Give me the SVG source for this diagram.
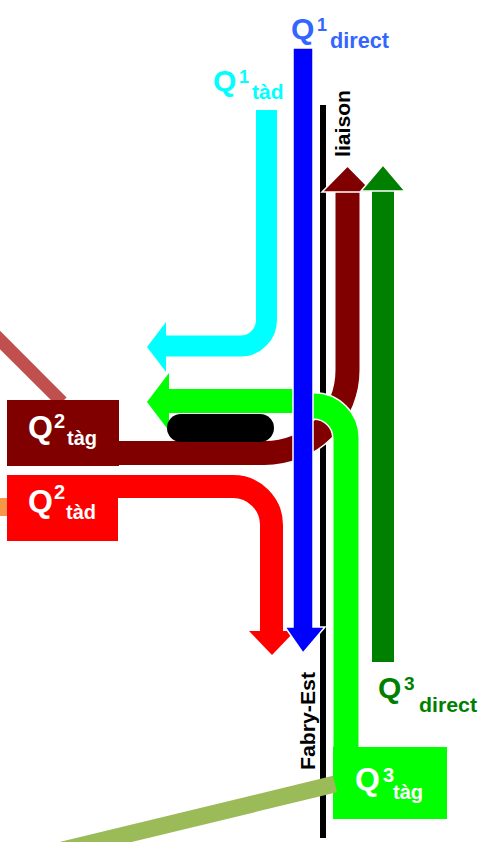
<svg xmlns="http://www.w3.org/2000/svg" width="495" height="842" viewBox="0 0 495 842">
<style>
.t{font-family:"Liberation Sans","Noto Sans",Arial,sans-serif;font-weight:bold}
.big{font-size:32px}
.sup{font-size:20px}
.sub{font-size:20px}
.w{fill:#ffffff}
.band{fill:none;stroke-linecap:butt;stroke-linejoin:round}
</style>
<rect width="495" height="842" fill="#ffffff"/>
<g id="feeders">
<line x1="-10" y1="330" x2="62" y2="402" stroke="#C0504D" stroke-width="13"/>
<line x1="-20" y1="507" x2="12" y2="507" stroke="#F79646" stroke-width="18"/>
</g>
<g id="road">
<rect x="320" y="105" width="6" height="733" fill="#000000"/>
</g>
<g id="connectors">
<g id="q2tag-flow">
<path class="band" d="M347.5,192 V370 A83,83 0 0 1 264.5,453 H110" stroke="#ffffff" stroke-width="27"/>
<path class="band" d="M347.5,192 V370 A83,83 0 0 1 264.5,453 H110" stroke="#800000" stroke-width="24"/>
<polygon points="347.5,166 373,192 322,192" fill="#800000" stroke="#ffffff" stroke-width="1.5"/>
</g>
<g id="q3direct-flow">
<rect x="372" y="190" width="22" height="472" fill="#008000"/>
<polygon points="383,165 405,191 361,191" fill="#008000" stroke="#ffffff" stroke-width="1.5"/>
</g>
<g id="q1tad-flow">
<path class="band" d="M266.5,110 V320 A26,26 0 0 1 240.5,346 H164" stroke="#00FFFF" stroke-width="21"/>
<polygon points="147,347 166,322 166,372" fill="#00FFFF"/>
</g>
<g id="q3tag-flow">
<rect x="168" y="389" width="132" height="24" fill="#00FF00"/>
<polygon points="147,402 169,373 169,431" fill="#00FF00"/>
<path class="band" d="M346,750 V438 A32,32 0 0 0 314,406 H305" stroke="#ffffff" stroke-width="28"/>
<path class="band" d="M346,750 V438 A32,32 0 0 0 314,406 H305" stroke="#00FF00" stroke-width="25"/>
</g>
<g id="q2tad-flow">
<path class="band" d="M110,486.5 H233 A38.5,38.5 0 0 1 271.5,525 V632" stroke="#FF0000" stroke-width="23"/>
<polygon points="249,631 295,631 272,655" fill="#FF0000"/>
</g>
<g id="q1direct-flow">
<path d="M293,48 H313 V627 H325 L303,653 L285,627 H293 Z" fill="#0000FF" stroke="#ffffff" stroke-width="1.5"/>
</g>
</g>
<g id="island">
<rect x="167" y="414" width="107" height="28" rx="14" fill="#000000"/>
</g>
<g id="node-q2tag">
<rect x="7" y="400" width="112" height="66" fill="#800000"/>
<text class="t w big" x="28" y="438">Q</text>
<text class="t w sup" x="54" y="428">2</text>
<text class="t w sub" x="67" y="445">tàg</text>
</g>
<g id="node-q2tad">
<rect x="7" y="475" width="111" height="66" fill="#FF0000"/>
<text class="t w big" x="28" y="512">Q</text>
<text class="t w sup" x="54" y="499">2</text>
<text class="t w sub" x="66" y="519">tàd</text>
</g>
<g id="node-q3tag">
<rect x="333" y="747" width="114" height="72" fill="#00FF00"/>
<text class="t w big" x="355" y="790">Q</text>
<text class="t w sup" x="383" y="782">3</text>
<text class="t w sub" x="393" y="799">tàg</text>
</g>
<g id="feeder-bottom">
<line x1="-20" y1="870" x2="335" y2="784" stroke="#9BBB59" stroke-width="17"/>
</g>
<g id="node-q1direct">
<text class="t" x="291" y="39" font-size="30" fill="#3366FF">Q</text>
<text class="t" x="317" y="31" font-size="18" fill="#3366FF">1</text>
<text class="t" x="330" y="48" font-size="22" textLength="59" lengthAdjust="spacingAndGlyphs" fill="#3366FF">direct</text>
</g>
<g id="node-q1tad">
<text class="t" x="213" y="91" font-size="30" fill="#00FFFF">Q</text>
<text class="t" x="239" y="83" font-size="18" fill="#00FFFF">1</text>
<text class="t" x="252" y="99" font-size="21" fill="#00FFFF">tàd</text>
</g>
<g id="node-q3direct">
<text class="t" x="378" y="698" font-size="30" fill="#008000">Q</text>
<text class="t" x="404" y="690" font-size="19" fill="#008000">3</text>
<text class="t" x="419" y="712" font-size="21" textLength="58" lengthAdjust="spacingAndGlyphs" fill="#008000">direct</text>
</g>
<g id="labels">
<text class="t" font-size="20" transform="translate(350,157) rotate(-90)" textLength="67" lengthAdjust="spacingAndGlyphs" fill="#000000">liaison</text>
<text class="t" font-size="20" transform="translate(315,770) rotate(-90)" textLength="98" lengthAdjust="spacingAndGlyphs" fill="#000000">Fabry-Est</text>
</g>
</svg>
